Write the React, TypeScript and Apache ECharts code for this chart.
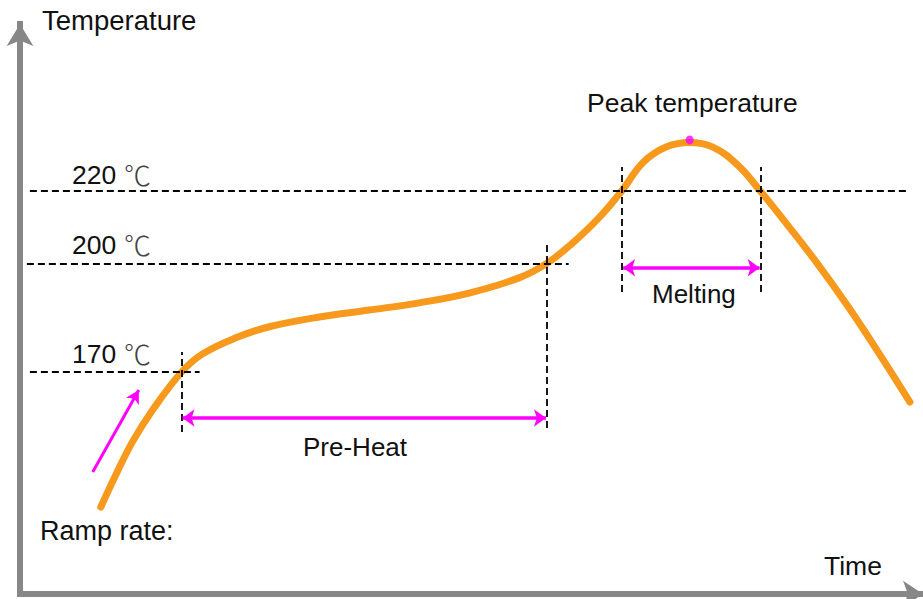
import React, { useEffect, useRef } from 'react';
import * as echarts from 'echarts';

// Reflow profile curve (time in arbitrary units, temperature in °C)
const timeValues = [27.0, 32.3, 37.7, 44.3, 54, 61, 72.3, 83.3, 100, 116.7, 133.3, 150, 166.7, 176, 184.3, 193.3, 201, 208.3, 216, 223.7, 231.3, 239.7, 247.3, 256.7, 266.7, 276.7, 286.7, 297.3];
const tempValues = [132.7, 142.1, 150.9, 159.5, 170.0, 175.0, 179.5, 182.5, 185.2, 187.1, 189.1, 191.8, 196.0, 200.0, 205.4, 212.5, 220.0, 228.0, 232.2, 233.4, 232.2, 227.2, 220.0, 210.3, 199.6, 188.0, 175.5, 161.7];

const peakPoint = [223.7, 234.1];

// Reference temperature levels and the time span of each dashed guide
const levelTemps = [220, 200, 170];
const levelStart = [3.3, 2.3, 3.3];
const levelEnd = [296, 183.3, 60];

// Vertical guides: time, lower temp, upper temp
const guideTimes = [54, 176, 201, 247.3];
const guideLow = [153.4, 154.5, 192.1, 192.1];
const guideHigh = [175.5, 205.6, 226.6, 226.6];

// Span arrows (tip positions)
const preHeatSpan = [54.3, 175.7];
const preHeatTemp = 157.3;
const meltingSpan = [201.5, 247.1];
const meltingTemp = 198.8;
const rampFrom = [24.3, 142.4];
const rampTo = [39.7, 165.0];

const levelLabels = ['220', '200', '170'];

const FONT = "'Liberation Sans', Arial, Helvetica, sans-serif";
const MAGENTA = '#FF00FF';
const ORANGE = '#F6991D';

export default function App() {
  const ref = useRef<HTMLDivElement>(null);

  useEffect(() => {
    if (!ref.current) return;
    const chart = echarts.init(ref.current, null, { renderer: 'svg' });
    const curve = timeValues.map((t, i) => [t, tempValues[i]]);

    const dashStyle = { type: [7, 4], color: '#000', width: 1.8 };

    const hData = levelTemps.map((v, i) => [
      { coord: [levelStart[i], v] },
      { coord: [levelEnd[i], v] },
    ]);
    const vData = guideTimes.map((t, i) => [
      { coord: [t, guideLow[i]] },
      { coord: [t, guideHigh[i]] },
    ]);

    const axisCommon = {
      type: 'value',
      axisTick: { show: false },
      axisLabel: { show: false },
      splitLine: { show: false },
    };

    const levelPixelY = [175, 245, 354];

    const texts: any[] = [
      { text: 'Temperature', x: 42, y: 20, size: 27.5 },
      { text: 'Peak temperature', x: 587, y: 103, size: 26.5 },
      { text: 'Melting', x: 652, y: 294, size: 26 },
      { text: 'Pre-Heat', x: 303, y: 447, size: 26 },
      { text: 'Ramp rate:', x: 40, y: 531, size: 27 },
      { text: 'Time', x: 824, y: 566, size: 26.5 },
    ].map((t) => ({
      type: 'text',
      x: t.x,
      y: t.y,
      style: {
        text: t.text,
        fill: '#111',
        fontSize: t.size,
        fontFamily: FONT,
        align: 'left',
        verticalAlign: 'middle',
      },
    }));

    levelLabels.forEach((lab, i) => {
      texts.push({
        type: 'text',
        x: 72,
        y: levelPixelY[i],
        style: {
          text: lab,
          fill: '#111',
          fontSize: 26.5,
          fontFamily: FONT,
          align: 'left',
          verticalAlign: 'middle',
        },
      });
      texts.push({
        type: 'text',
        x: 124,
        y: levelPixelY[i] - 1,
        style: {
          text: '℃',
          fill: '#444',
          fontSize: 27,
          fontFamily: "'Noto Sans CJK SC', sans-serif",
          fontWeight: 300,
          align: 'left',
          verticalAlign: 'middle',
        },
      });
    });

    chart.setOption({
      animation: false,
      backgroundColor: '#ffffff',
      grid: { left: 20, right: -2, top: 24, bottom: 5, containLabel: false },
      xAxis: {
        ...axisCommon,
        min: 0,
        max: 301.67,
        axisLine: {
          show: true,
          symbol: ['none', 'arrow'],
          symbolSize: [20, 20],
          lineStyle: { color: '#878787', width: 6, cap: 'square' },
        },
      },
      yAxis: {
        ...axisCommon,
        min: 108.67,
        max: 266.13,
        axisLine: {
          show: true,
          symbol: ['none', 'arrow'],
          symbolSize: [20, 22],
          lineStyle: { color: '#878787', width: 6, cap: 'square' },
        },
      },
      graphic: texts,
      series: [
        {
          type: 'custom',
          name: 'Temperature',
          data: curve,
          z: 3,
          clip: false,
          renderItem: (params: any, api: any) => {
            if (params.dataIndex !== 0) return null;
            const pts = curve.map((p) => api.coord(p));
            return {
              type: 'polyline',
              shape: { points: pts, smooth: 0.4 },
              style: {
                stroke: ORANGE,
                lineWidth: 7,
                fill: null,
                lineCap: 'round',
                lineJoin: 'round',
              },
            };
          },
        },
        {
          type: 'line',
          data: [],
          z: 4,
          markLine: {
            silent: true,
            symbol: ['none', 'none'],
            label: { show: false },
            lineStyle: dashStyle,
            data: [...hData, ...vData],
          },
        },
        {
          type: 'line',
          data: [],
          z: 5,
          markLine: {
            silent: true,
            symbol: ['arrow', 'arrow'],
            symbolSize: [13, 12],
            label: { show: false },
            lineStyle: { color: MAGENTA, width: 3.5, type: 'solid' },
            data: [
              [{ coord: [preHeatSpan[0], preHeatTemp] }, { coord: [preHeatSpan[1], preHeatTemp] }],
              [{ coord: [meltingSpan[0], meltingTemp] }, { coord: [meltingSpan[1], meltingTemp] }],
            ],
          },
        },
        {
          type: 'line',
          data: [],
          z: 5,
          markLine: {
            silent: true,
            symbol: ['none', 'arrow'],
            symbolSize: [11, 13],
            label: { show: false },
            lineStyle: { color: MAGENTA, width: 3, type: 'solid' },
            data: [[{ coord: rampFrom }, { coord: rampTo }]],
          },
        },
        {
          type: 'scatter',
          data: [peakPoint],
          symbol: 'circle',
          symbolSize: [8, 9],
          itemStyle: { color: MAGENTA },
          z: 6,
        },
      ],
    });

    return () => chart.dispose();
  }, []);

  return (
    <div
      ref={ref}
      style={{ position: 'fixed', left: 0, top: 0, width: 923, height: 599, background: '#fff' }}
    />
  );
}
